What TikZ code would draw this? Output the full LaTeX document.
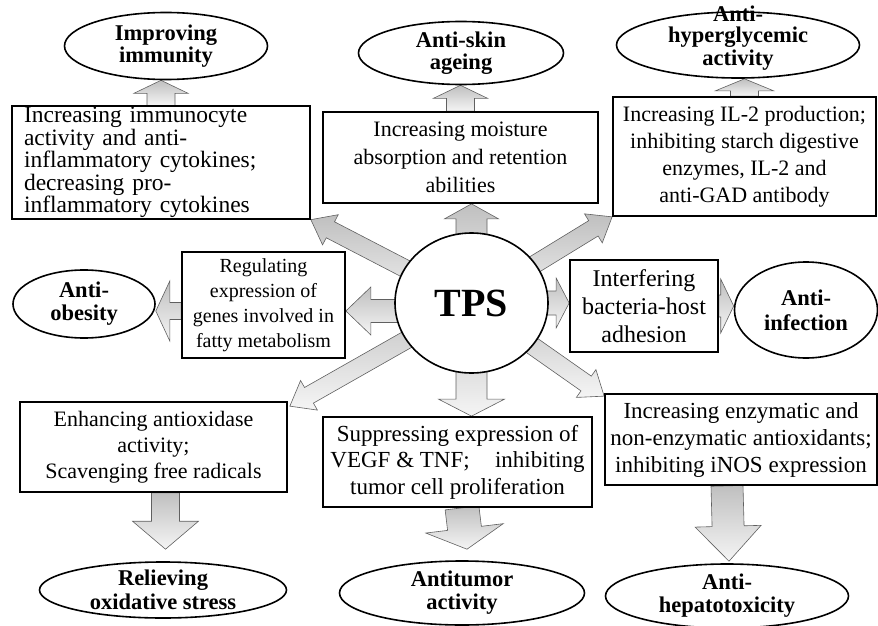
\documentclass[tikz,border=0pt]{standalone}
\usepackage{fontspec}
\setmainfont{Liberation Serif}
\usetikzlibrary{shapes.geometric,calc,backgrounds}

\newcommand\blockarr[6][]{%
  \coordinate (bahead) at ($(#3)!#6!(#2)$);
  \draw[barrow,#1] ($(#2)!#4!90:(#3)$) -- ($(bahead)!#4!90:(#3)$) -- ($(bahead)!#5!90:(#3)$) -- (#3)
     -- ($(bahead)!#5!-90:(#3)$) -- ($(bahead)!#4!-90:(#3)$) -- ($(#2)!#4!-90:(#3)$) -- cycle;}

\tikzset{
  box/.style={draw, line width=1.7pt, fill=white, inner sep=1pt, align=center,
              font=\fontsize{22}{27}\selectfont},
  ell/.style={ellipse, draw, line width=1.6pt, fill=white, inner sep=0pt},
  etxt/.style={align=center, inner sep=0pt, font=\bfseries\fontsize{22.5}{20}\selectfont},
  barrow/.style={draw=gray!75!black, line width=0.6pt, line join=miter,
                 top color=gray!50, bottom color=gray!8}
}

\begin{document}
\begin{tikzpicture}[x=1pt, y=-1pt]
\useasboundingbox (0,0) rectangle (878,626);

% ---------- ellipses ----------
\node[ell, minimum width=203pt, minimum height=67pt,
      label={[etxt]center:{Improving\\immunity}}] (ime) at (166,46) {};
\node[ell, minimum width=205pt, minimum height=63pt,
      label={[etxt]center:{Anti-skin\\[2pt]ageing}}] (ske) at (461,53) {};
\node[ell, minimum width=243pt, minimum height=66pt,
      label={[etxt,yshift=7pt]center:{Anti-\\[1pt]hyperglycemic\\[1pt]activity}}] (hye) at (738,45) {};
\node[ell, minimum width=142pt, minimum height=68pt,
      label={[etxt]center:{Anti-\\[3pt]obesity}}] (obe) at (84,304) {};
\node[ell, minimum width=143pt, minimum height=96pt,
      label={[etxt]center:{Anti-\\[5pt]infection}}] (ine) at (806,310) {};
\node[ell, minimum width=247pt, minimum height=56pt,
      label={[etxt]center:{Relieving\\[3pt]oxidative stress}}] (oxe) at (163,590) {};
\node[ell, minimum width=245pt, minimum height=64pt,
      label={[etxt]center:{Antitumor\\[3pt]activity}}] (tue) at (462,593) {};
\node[ell, minimum width=243pt, minimum height=64pt,
      label={[etxt]center:{Anti-\\[3pt]hepatotoxicity}}] (hee) at (727,596) {};
\node[ell, minimum width=153pt, minimum height=140pt,
      label={[font=\bfseries\fontsize{40}{40}\selectfont, inner sep=0pt]center:TPS}] (tps) at (471.5,303) {};

% ---------- boxes ----------
\node[box, minimum width=298pt, minimum height=111pt, text width=274pt, align=left,
      font=\fontsize{23.5}{20.5}\selectfont] (imb) at (161,162.5)
  {Increasing immunocyte\\activity and anti-\\inflammatory cytokines;\\decreasing pro-\\inflammatory cytokines};
\node[box, minimum width=275pt, minimum height=91pt, font=\fontsize{22}{28}\selectfont] (skb) at (460.5,157.5)
  {Increasing moisture\\absorption and retention\\abilities};
\node[box, minimum width=263pt, minimum height=119pt] (hyb) at (744.5,156.5)
  {Increasing IL-2 production;\\inhibiting starch digestive\\enzymes, IL-2 and\\anti-GAD antibody};
\node[box, minimum width=163pt, minimum height=106pt, font=\fontsize{20}{25}\selectfont] (obb) at (263.5,305)
  {Regulating\\expression of\\genes involved in\\fatty metabolism};
\node[box, minimum width=148pt, minimum height=92pt, font=\fontsize{24}{28}\selectfont] (inb) at (644,306)
  {Interfering\\bacteria-host\\adhesion};
\node[box, minimum width=267pt, minimum height=90pt, font=\fontsize{22}{26}\selectfont] (oxb) at (153.5,447)
  {Enhancing antioxidase\\activity;\\Scavenging free radicals};
\node[box, minimum width=269pt, minimum height=90pt, font=\fontsize{23}{26.5}\selectfont] (tub) at (457.5,462)
  {Suppressing expression of\\VEGF \& TNF;\hspace{1.1em}inhibiting\\tumor cell proliferation};
\node[box, minimum width=272pt, minimum height=91pt, font=\fontsize{23}{27}\selectfont] (heb) at (741,439.5)
  {Increasing enzymatic and\\non-enzymatic antioxidants;\\inhibiting iNOS expression};

% ---------- block arrows ----------
\begin{pgfonlayer}{background}
  % upward into ellipses
  \coordinate (u1s) at (imb.north);  \coordinate (u1e) at (imb.north |- ime.south);
  \blockarr{u1s}{u1e}{14pt}{27pt}{13pt}
  \coordinate (u2s) at (skb.north);  \coordinate (u2e) at (skb.north |- ske.south);
  \blockarr{u2s}{u2e}{14pt}{27pt}{13pt}
  \coordinate (u3s) at (hyb.north);  \coordinate (u3e) at (hyb.north |- hye.south);
  \blockarr{u3s}{u3e}{14pt}{29pt}{12pt}
  % TPS up to skin box
  \coordinate (s0e) at (tps.center |- skb.south);
  \blockarr{tps.center}{s0e}{15.5pt}{27pt}{15pt}
  % diagonals
  \coordinate (d1e) at (imb.south east);
  \blockarr{tps.center}{d1e}{9pt}{17pt}{22pt}
  \coordinate (d2e) at (hyb.south west);
  \blockarr{tps.center}{d2e}{9pt}{17pt}{22pt}
  \coordinate (d3e) at ($(oxb.north east)+(2,5)$);
  \blockarr{tps.center}{d3e}{9pt}{17pt}{22pt}
  \coordinate (d4e) at ($(heb.north west)+(0,3)$);
  \blockarr{tps.center}{d4e}{9pt}{17pt}{22pt}
  % left to obesity
  \coordinate (o1s) at ($(tps.center)+(0,8)$);
  \coordinate (o1e) at (obb.east |- o1s);
  \blockarr{o1s}{o1e}{11.5pt}{24pt}{25pt}
  \coordinate (o2s) at (obb.west |- o1s);
  \coordinate (o2e) at (obe.east |- o1s);
  \blockarr{o2s}{o2e}{8.5pt}{30pt}{14pt}
  % right to infection
  \coordinate (i1e) at (inb.west |- tps.center);
  \blockarr{tps.center}{i1e}{12pt}{25pt}{13pt}
  \coordinate (i2s) at (inb.east);
  \coordinate (i2e) at (ine.west |- inb.east);
  \blockarr{i2s}{i2e}{11pt}{27pt}{13pt}
  % down
  \coordinate (t1e) at (tps.center |- tub.north);
  \blockarr{tps.center}{t1e}{15.5pt}{33pt}{17pt}
  \coordinate (x2s) at ($(oxb.south)+(12,0)$);
  \coordinate (x2e) at ($(x2s |- oxe.north)+(0,-12)$);
  \blockarr{x2s}{x2e}{14pt}{33pt}{28pt}
  \coordinate (t2s) at (tue.north |- tub.south);
  \coordinate (t2e) at ($(tue.north)+(5,-11)$);
  \blockarr{t2s}{t2e}{17pt}{39pt}{21pt}
  \coordinate (h2s) at (hee.north |- heb.south);
  \coordinate (h2e) at ($(hee.north)+(2,-2)$);
  \blockarr{h2s}{h2e}{16pt}{33pt}{35pt}
\end{pgfonlayer}
\end{tikzpicture}
\end{document}
